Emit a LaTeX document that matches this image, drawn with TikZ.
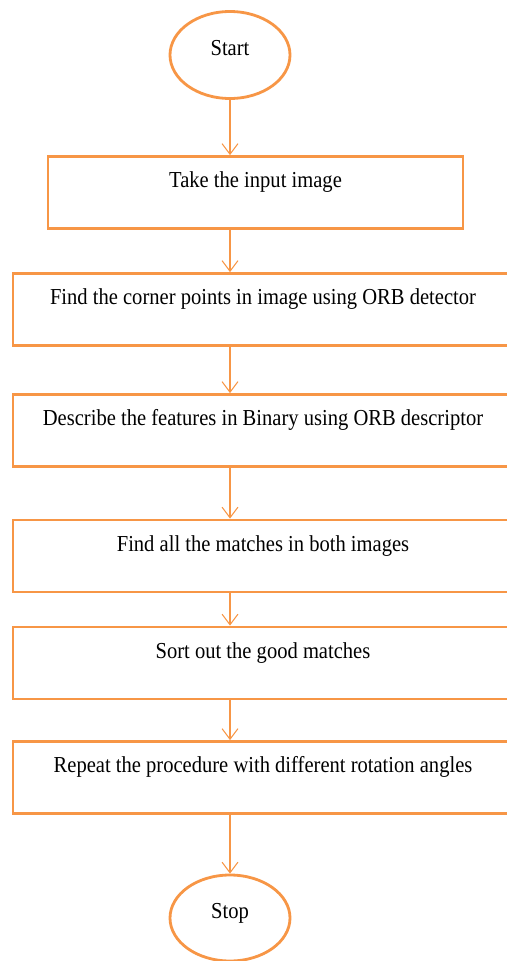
\documentclass[tikz,border=0pt]{standalone}
\usepackage{fontspec}
\setmainfont[FakeStretch=0.9]{Liberation Serif}
\usetikzlibrary{arrows.meta,shapes.geometric}

\definecolor{flowcol}{HTML}{F79646}

\begin{document}
\begin{tikzpicture}[
    font=\fontsize{13}{15}\selectfont,
    >={Straight Barb[length=6pt,width=9pt]},
    terminal/.style={ellipse,draw=flowcol,line width=1.6pt,minimum width=2.4cm,minimum height=1.74cm,inner sep=0pt,text height=0.3cm,text depth=0.28cm},
    stepbox/.style={rectangle,draw=flowcol,line width=1.6pt,minimum height=1.44cm,inner sep=0pt,text height=0.3cm,text depth=0.5cm},
    arr/.style={draw=flowcol,line width=0.6pt,->}
]
\useasboundingbox (0,0) rectangle (10.12,-19.22);

\node[terminal] (start) at (4.6,-1.10) {Start};
\node[stepbox,minimum width=8.3cm] (take) at (5.11,-3.85) {Take the input image};
\node[stepbox,minimum width=10cm] (corner) at (5.26,-6.19) {Find the corner points in image using ORB detector};
\node[stepbox,minimum width=10cm] (describe) at (5.26,-8.61) {Describe the features in Binary using ORB descriptor};
\node[stepbox,minimum width=10cm] (match) at (5.26,-11.12) {Find all the matches in both images};
\node[stepbox,minimum width=10cm] (sort) at (5.26,-13.26) {Sort out the good matches};
\node[stepbox,minimum width=10cm] (repeat) at (5.26,-15.55) {Repeat the procedure with different rotation angles};
\node[terminal,minimum height=1.72cm] (stop) at (4.6,-18.36) {Stop};

\draw[arr] (start.south) -- (start.south |- take.north);
\draw[arr] (start.south |- take.south) -- (start.south |- corner.north);
\draw[arr] (start.south |- corner.south) -- (start.south |- describe.north);
\draw[arr] (start.south |- describe.south) -- (start.south |- match.north);
\draw[arr] (start.south |- match.south) -- (start.south |- sort.north);
\draw[arr] (start.south |- sort.south) -- (start.south |- repeat.north);
\draw[arr] (start.south |- repeat.south) -- (stop.north);

\end{tikzpicture}
\end{document}
